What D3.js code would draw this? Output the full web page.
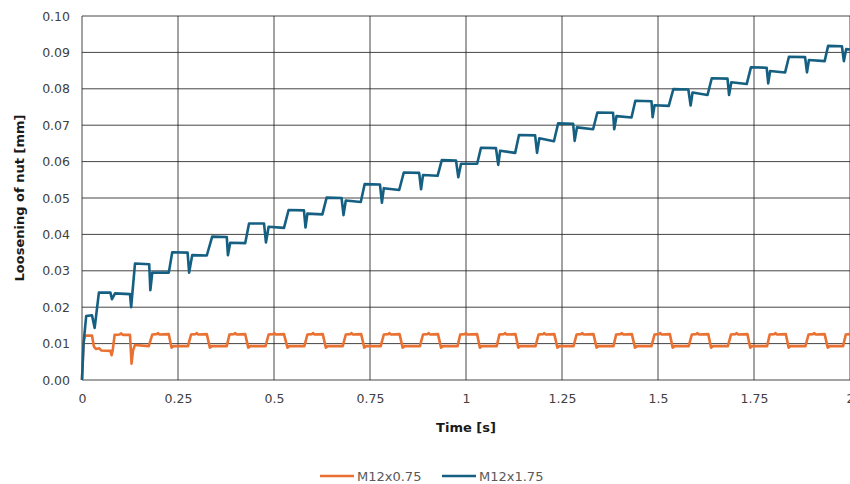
<!DOCTYPE html>
<html>
<head>
<meta charset="utf-8">
<title>Loosening of nut</title>
<script src="https://cdn.jsdelivr.net/npm/d3@7/dist/d3.min.js"></script>
<style>
body { margin: 0; background: #fff; }
text { font-family: "DejaVu Sans", sans-serif; }
.tick text { font-size: 12.5px; fill: #404040; }
.axis-title { font-size: 13px; font-weight: bold; fill: #1a1a1a; }
.legend text { font-size: 13px; fill: #595959; }
</style>
</head>
<body>
<svg id="chart" width="850" height="484"></svg>
<script>
// tick labels
var xTicks = [0, 0.25, 0.5, 0.75, 1, 1.25, 1.5, 1.75, 2];
var yTicks = [0, 0.01, 0.02, 0.03, 0.04, 0.05, 0.06, 0.07, 0.08, 0.09, 0.10];

// series: [time s, loosening mm]
var m12x075 = [
  [0, 0], [0.004, 0.0105], [0.008, 0.0122], [0.026, 0.0122], [0.031, 0.0092], [0.037, 0.0085],
  [0.045, 0.0087], [0.050, 0.0081], [0.074, 0.0080], [0.077, 0.0068], [0.080, 0.0082],
  [0.085, 0.0124], [0.098, 0.0125], [0.102, 0.0128], [0.106, 0.0124], [0.125, 0.0124],
  [0.129, 0.0045], [0.133, 0.0082], [0.138, 0.0096], [0.174, 0.0093],
  [0.183, 0.0125], [0.195, 0.0126], [0.198, 0.0129], [0.201, 0.0125], [0.226, 0.0126], [0.233, 0.0089], [0.238, 0.0093], [0.276, 0.0093],
  [0.284, 0.0125], [0.296, 0.0126], [0.299, 0.0129], [0.302, 0.0125], [0.325, 0.0126], [0.333, 0.0089], [0.338, 0.0093], [0.377, 0.0093],
  [0.384, 0.0125], [0.396, 0.0126], [0.399, 0.0129], [0.402, 0.0125], [0.425, 0.0126], [0.433, 0.0089], [0.438, 0.0093], [0.478, 0.0093],
  [0.486, 0.0125], [0.498, 0.0126], [0.501, 0.0129], [0.504, 0.0125], [0.526, 0.0126], [0.535, 0.0089], [0.540, 0.0093], [0.579, 0.0093],
  [0.587, 0.0125], [0.599, 0.0126], [0.602, 0.0129], [0.605, 0.0125], [0.627, 0.0126], [0.635, 0.0089], [0.640, 0.0093], [0.679, 0.0093],
  [0.687, 0.0125], [0.699, 0.0126], [0.702, 0.0129], [0.705, 0.0125], [0.727, 0.0126], [0.735, 0.0089], [0.740, 0.0093], [0.778, 0.0093],
  [0.786, 0.0125], [0.798, 0.0126], [0.801, 0.0129], [0.804, 0.0125], [0.827, 0.0126], [0.835, 0.0089], [0.840, 0.0093], [0.880, 0.0093],
  [0.888, 0.0125], [0.900, 0.0126], [0.903, 0.0129], [0.906, 0.0125], [0.927, 0.0126], [0.935, 0.0089], [0.940, 0.0093], [0.978, 0.0093],
  [0.985, 0.0125], [0.997, 0.0126], [1.000, 0.0129], [1.003, 0.0125], [1.029, 0.0126], [1.036, 0.0089], [1.041, 0.0093], [1.080, 0.0093],
  [1.087, 0.0125], [1.099, 0.0126], [1.102, 0.0129], [1.105, 0.0125], [1.129, 0.0126], [1.136, 0.0089], [1.141, 0.0093], [1.181, 0.0093],
  [1.189, 0.0125], [1.201, 0.0126], [1.204, 0.0129], [1.207, 0.0125], [1.230, 0.0126], [1.238, 0.0089], [1.243, 0.0093], [1.280, 0.0093],
  [1.288, 0.0125], [1.300, 0.0126], [1.303, 0.0129], [1.306, 0.0125], [1.332, 0.0126], [1.340, 0.0089], [1.345, 0.0093], [1.384, 0.0093],
  [1.391, 0.0125], [1.403, 0.0126], [1.406, 0.0129], [1.409, 0.0125], [1.432, 0.0126], [1.440, 0.0089], [1.445, 0.0093], [1.483, 0.0093],
  [1.491, 0.0125], [1.503, 0.0126], [1.506, 0.0129], [1.509, 0.0125], [1.531, 0.0126], [1.538, 0.0089], [1.543, 0.0093], [1.580, 0.0093],
  [1.588, 0.0125], [1.600, 0.0126], [1.603, 0.0129], [1.606, 0.0125], [1.631, 0.0126], [1.638, 0.0089], [1.643, 0.0093], [1.682, 0.0093],
  [1.690, 0.0125], [1.702, 0.0126], [1.705, 0.0129], [1.708, 0.0125], [1.733, 0.0126], [1.740, 0.0089], [1.745, 0.0093], [1.784, 0.0093],
  [1.791, 0.0125], [1.803, 0.0126], [1.806, 0.0129], [1.809, 0.0125], [1.833, 0.0126], [1.840, 0.0089], [1.845, 0.0093], [1.884, 0.0093],
  [1.892, 0.0125], [1.904, 0.0126], [1.907, 0.0129], [1.910, 0.0125], [1.934, 0.0126], [1.942, 0.0089], [1.947, 0.0093], [1.982, 0.0093],
  [1.989, 0.0125], [2.000, 0.0126]
];

var m12x175 = [
  [0, 0], [0.004, 0.0100], [0.011, 0.0176], [0.026, 0.0178], [0.033, 0.0143], [0.044, 0.0240],
  [0.074, 0.0240], [0.078, 0.0222], [0.086, 0.0238], [0.125, 0.0236],
  [0.128, 0.0200], [0.138, 0.0320], [0.175, 0.0318], [0.178, 0.0247], [0.183, 0.0295],
  [0.226, 0.0295], [0.235, 0.0351], [0.275, 0.0350], [0.279, 0.0295], [0.287, 0.0343],
  [0.325, 0.0342], [0.339, 0.0394], [0.377, 0.0393], [0.380, 0.0343], [0.386, 0.0377],
  [0.425, 0.0376], [0.435, 0.0430], [0.474, 0.0430], [0.479, 0.0378], [0.486, 0.0421],
  [0.526, 0.0418], [0.538, 0.0467], [0.578, 0.0466], [0.582, 0.0419], [0.587, 0.0457],
  [0.626, 0.0455], [0.637, 0.0501], [0.676, 0.0500], [0.681, 0.0453], [0.687, 0.0493],
  [0.726, 0.0489], [0.736, 0.0538], [0.776, 0.0537], [0.781, 0.0487], [0.786, 0.0527],
  [0.826, 0.0522], [0.838, 0.0570], [0.878, 0.0569], [0.883, 0.0524], [0.888, 0.0563],
  [0.926, 0.0561], [0.937, 0.0604], [0.974, 0.0603], [0.980, 0.0557], [0.987, 0.0594],
  [1.029, 0.0594], [1.039, 0.0638], [1.078, 0.0637], [1.084, 0.0591], [1.089, 0.0630],
  [1.128, 0.0624], [1.138, 0.0673], [1.180, 0.0672], [1.185, 0.0624], [1.191, 0.0664],
  [1.229, 0.0656], [1.240, 0.0705], [1.279, 0.0704], [1.283, 0.0657], [1.289, 0.0694],
  [1.331, 0.0689], [1.342, 0.0735], [1.383, 0.0734], [1.386, 0.0689], [1.392, 0.0725],
  [1.431, 0.0721], [1.441, 0.0767], [1.483, 0.0766], [1.486, 0.0722], [1.491, 0.0755],
  [1.528, 0.0753], [1.540, 0.0799], [1.579, 0.0798], [1.585, 0.0754], [1.590, 0.0790],
  [1.629, 0.0783], [1.640, 0.0829], [1.681, 0.0828], [1.685, 0.0783], [1.691, 0.0818],
  [1.731, 0.0813], [1.742, 0.0859], [1.783, 0.0858], [1.787, 0.0815], [1.792, 0.0849],
  [1.831, 0.0845], [1.841, 0.0888], [1.883, 0.0887], [1.888, 0.0845], [1.893, 0.0879],
  [1.934, 0.0876], [1.943, 0.0918], [1.979, 0.0917], [1.984, 0.0876], [1.990, 0.0909],
  [2.000, 0.0908]
];

var seriesNames = ["M12x0.75", "M12x1.75"];
var seriesColors = ["#E97132", "#156082"];

var svg = d3.select("#chart");
var x = d3.scaleLinear().domain([0, 2]).range([82, 850]);
var y = d3.scaleLinear().domain([0, 0.1]).range([380, 16]);

// grid
svg.append("g").selectAll("line").data(yTicks).join("line")
  .attr("x1", x(0)).attr("x2", x(2))
  .attr("y1", d => y(d)).attr("y2", d => y(d))
  .attr("stroke", "#262626").attr("stroke-width", 1).attr("opacity", 0.85);
svg.append("g").selectAll("line").data(xTicks).join("line")
  .attr("x1", d => x(d)).attr("x2", d => x(d))
  .attr("y1", y(0)).attr("y2", y(0.1))
  .attr("stroke", "#262626").attr("stroke-width", 1).attr("opacity", 0.85);

// axes (labels only)
var xAxis = d3.axisBottom(x).tickValues(xTicks).tickFormat(d3.format("~g")).tickSize(0).tickPadding(14);
var gx = svg.append("g").attr("transform", "translate(0," + y(0) + ")").call(xAxis);
gx.select(".domain").remove();

var yAxis = d3.axisLeft(y).tickValues(yTicks).tickFormat(d3.format(".2f")).tickSize(0).tickPadding(12);
var gy = svg.append("g").attr("transform", "translate(" + x(0) + ",0)").call(yAxis);
gy.select(".domain").remove();
svg.selectAll(".tick text").attr("font-family", null);

// titles
svg.append("text").attr("class", "axis-title")
  .attr("x", 466).attr("y", 432).attr("text-anchor", "middle").text("Time [s]");
svg.append("text").attr("class", "axis-title")
  .attr("transform", "translate(24,198) rotate(-90)")
  .attr("text-anchor", "middle").text("Loosening of nut [mm]");

// lines
var line = d3.line().x(d => x(d[0])).y(d => y(d[1]));
[m12x075, m12x175].forEach(function (s, i) {
  svg.append("path").datum(s)
    .attr("fill", "none")
    .attr("stroke", seriesColors[i])
    .attr("stroke-width", 2.6)
    .attr("stroke-linejoin", "round")
    .attr("d", line);
});

// legend
var legend = svg.append("g").attr("class", "legend");
var legX = [320, 442];
seriesNames.forEach(function (n, i) {
  legend.append("line")
    .attr("x1", legX[i]).attr("x2", legX[i] + 34)
    .attr("y1", 476).attr("y2", 476)
    .attr("stroke", seriesColors[i]).attr("stroke-width", 2.6);
  legend.append("text")
    .attr("x", legX[i] + 37).attr("y", 480.5).text(n);
});
</script>
</body>
</html>
